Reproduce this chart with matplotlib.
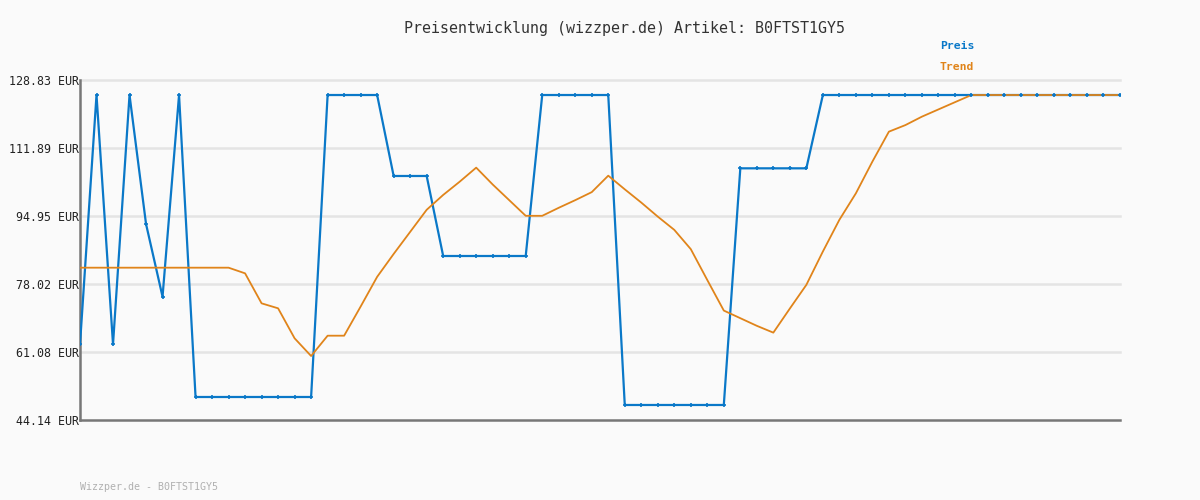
import numpy as np
import matplotlib.pyplot as plt

# Preis (blau) und Trend (orange), ein Wert pro Tag
preis = [63.0, 125.09, 63.0, 125.09, 92.96, 74.86, 125.09,
         49.87, 49.87, 49.87, 49.87, 49.87, 49.87, 49.87, 49.87,
         125.09, 125.09, 125.09, 125.09,
         104.92, 104.92, 104.92,
         84.99, 84.99, 84.99, 84.99, 84.99, 84.99,
         125.09, 125.09, 125.09, 125.09, 125.09,
         47.88, 47.88, 47.88, 47.88, 47.88, 47.88, 47.88,
         106.83, 106.83, 106.83, 106.83, 106.83] + [125.09] * 19
trend = [82.08] * 10 + [80.67, 73.2, 71.96, 64.49, 60.08, 65.14, 65.14, 72.4, 79.8,
         85.5, 91.0, 96.5, 100.2, 103.5, 107.0, 102.8, 98.9, 95.0, 95.0, 97.0,
         98.9, 100.9, 105.0, 101.6, 98.3, 94.8, 91.5, 86.7, 79.0, 71.4, 69.5,
         67.6, 65.9, 71.9, 77.8, 86.1, 94.0, 100.6, 108.5, 115.96, 117.6,
         119.7, 121.5, 123.3] + [125.09] * 10
yticks = [44.14, 61.08, 78.02, 94.95, 111.89, 128.83]
ytick_labels = ["%.2f EUR" % v for v in yticks]

blue = '#0a78c8'
orange = '#e0841a'
bg = '#fafafa'
mono = 'DejaVu Sans Mono'

x = np.arange(len(preis))

fig = plt.figure(figsize=(12, 5), dpi=100, facecolor=bg)
ax = fig.add_axes([80/1200, 1-420/500, 1040/1200, 340/500], facecolor=bg)

# Gitterlinien selbst zeichnen, damit die oberste nicht abgeschnitten wird
for v in yticks[1:]:
    ax.axhline(v, color='#e4e4e4', linewidth=1.8, zorder=0, clip_on=False)

ax.plot(x, preis, '-', color=blue, linewidth=1.6, zorder=3)
ax.plot(x, trend, '-', color=orange, linewidth=1.3, zorder=4)
ax.plot(x, preis, '+', color=blue, markersize=3.4, markeredgewidth=1.2, zorder=5)

ax.set_xlim(0, len(preis) - 1)
ax.set_ylim(yticks[0], yticks[-1])
ax.set_yticks(yticks)
ax.set_yticklabels(ytick_labels, family=mono, fontsize=8.4, color='#222222')
ax.set_xticks([])
ax.tick_params(axis='y', length=0, pad=0.5)

for s in ['top', 'right']:
    ax.spines[s].set_visible(False)
for s in ['left', 'bottom']:
    ax.spines[s].set_color('#777777')
    ax.spines[s].set_linewidth(1.8)

fig.text(624/1200, 1-28/500, "Preisentwicklung (wizzper.de) Artikel: B0FTST1GY5",
         ha='center', va='center', family=mono, fontsize=10.8, color='#333333')
fig.text(940/1200, 1-46/500, "Preis", ha='left', va='center', family=mono,
         fontsize=8.2, fontweight='bold', color=blue)
fig.text(940/1200, 1-67/500, "Trend", ha='left', va='center', family=mono,
         fontsize=8.2, fontweight='bold', color=orange)
fig.text(80/1200, 1-487/500, "Wizzper.de - B0FTST1GY5", ha='left', va='center',
         family=mono, fontsize=7.2, color='#b0b0b0')

fig.savefig('out.png', dpi=100, facecolor=bg)
